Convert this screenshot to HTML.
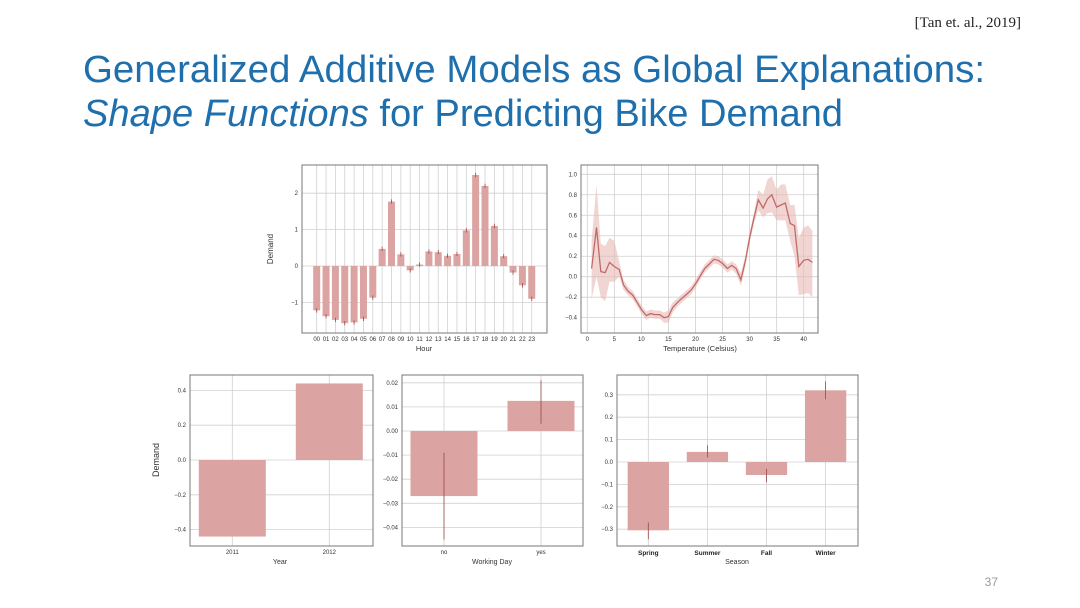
<!DOCTYPE html>
<html><head><meta charset="utf-8">
<style>
html,body{margin:0;padding:0;background:#fff;}
svg{display:block;font-family:"Liberation Sans",sans-serif;}
.tk{font-size:6px;fill:#333;}
.al{font-size:7.5px;fill:#333;}
</style></head>
<body>
<svg id="slide" width="1080" height="608" viewBox="0 0 1080 608" xmlns="http://www.w3.org/2000/svg">
  <text x="1021" y="27" text-anchor="end" font-family="'Liberation Sans Narrow','Liberation Serif',serif" font-size="15" fill="#222">[Tan et. al., 2019]</text>
  <text x="83" y="82" font-family="'Liberation Sans Narrow','Liberation Sans',sans-serif" font-size="38" fill="#1f6fad" textLength="902" lengthAdjust="spacingAndGlyphs">Generalized Additive Models as Global Explanations:</text>
  <text x="83" y="126" font-family="'Liberation Sans Narrow','Liberation Sans',sans-serif" font-size="38" fill="#1f6fad" textLength="760" lengthAdjust="spacingAndGlyphs"><tspan font-style="italic">Shape Functions</tspan> for Predicting Bike Demand</text>
  <text x="998" y="586" text-anchor="end" font-size="12" fill="#999">37</text>
  <g id="charts"></g>
</svg>
<script>
// ---- data ----
const hourLabels = ["00","01","02","03","04","05","06","07","08","09","10","11","12","13","14","15","16","17","18","19","20","21","22","23"];
const hourValues = [-1.22,-1.38,-1.48,-1.57,-1.55,-1.45,-0.87,0.47,1.77,0.32,-0.12,0.04,0.40,0.38,0.28,0.33,0.98,2.5,2.2,1.1,0.27,-0.18,-0.53,-0.9];
const hourTicks = [-1,0,1,2];

const tempX = [0.8,1.7,2.5,3.3,4.1,5,5.9,6.7,7.5,8.4,9.2,10,10.9,11.7,12.5,13.4,14.2,15,15.8,16.7,17.5,18.4,19.2,20,20.9,21.7,22.5,23.4,24.2,25,25.9,26.7,27.5,28.4,29.2,30,30.8,31.6,32.5,33.3,34.1,35,35.8,36.6,37.5,38.3,39.1,40,40.8,41.6];
const tempY = [0.08,0.48,0.05,0.04,0.14,0.1,0.07,-0.08,-0.14,-0.18,-0.25,-0.32,-0.38,-0.36,-0.37,-0.37,-0.40,-0.39,-0.3,-0.25,-0.21,-0.17,-0.13,-0.07,0.01,0.08,0.12,0.17,0.16,0.13,0.08,0.11,0.08,-0.03,0.15,0.38,0.57,0.75,0.67,0.76,0.8,0.68,0.7,0.72,0.52,0.5,0.1,0.16,0.17,0.14];
const tempLow = [-0.22,0.0,-0.2,-0.24,-0.05,-0.05,0.0,-0.13,-0.18,-0.22,-0.29,-0.36,-0.42,-0.4,-0.41,-0.41,-0.45,-0.45,-0.35,-0.29,-0.25,-0.21,-0.17,-0.11,-0.03,0.04,0.08,0.13,0.12,0.09,0.04,0.07,0.03,-0.09,0.1,0.33,0.52,0.65,0.58,0.62,0.63,0.55,0.55,0.55,0.35,0.2,-0.18,-0.17,-0.16,-0.2];
const tempHigh = [0.35,0.9,0.32,0.3,0.38,0.35,0.15,-0.03,-0.1,-0.14,-0.21,-0.28,-0.34,-0.32,-0.33,-0.33,-0.35,-0.33,-0.25,-0.21,-0.17,-0.13,-0.09,-0.03,0.05,0.12,0.16,0.21,0.2,0.17,0.12,0.15,0.12,0.04,0.2,0.43,0.62,0.85,0.8,0.95,0.98,0.85,0.9,0.9,0.7,0.7,0.38,0.48,0.5,0.45];
const tempXTicks = [0,5,10,15,20,25,30,35,40];
const tempYTicks = [-0.4,-0.2,0.0,0.2,0.4,0.6,0.8,1.0];

const yearCats = ["2011","2012"];
const yearVals = [-0.44,0.44];
const yearTicks = [-0.4,-0.2,0.0,0.2,0.4];

const workCats = ["no","yes"];
const workVals = [-0.027,0.0125];
const workErrLow = [-0.045,0.003];
const workErrHigh = [-0.009,0.021];
const workTicks = [-0.04,-0.03,-0.02,-0.01,0.00,0.01,0.02];

const seasonCats = ["Spring","Summer","Fall","Winter"];
const seasonVals = [-0.305,0.045,-0.058,0.32];
const seasonErrLow = [-0.345,0.02,-0.09,0.28];
const seasonErrHigh = [-0.27,0.075,-0.03,0.36];
const seasonTicks = [-0.3,-0.2,-0.1,0.0,0.1,0.2,0.3];

// ---- helpers ----
const NS = "http://www.w3.org/2000/svg";
const root = document.getElementById('charts');
function mk(tag, attrs, parent){
  const e = document.createElementNS(NS, tag);
  for (const k in attrs) e.setAttribute(k, attrs[k]);
  (parent||root).appendChild(e);
  return e;
}
function fmt(v, d){ const s = Math.abs(v).toFixed(d); return (v < -1e-9 ? "\u2212" : "") + s; }
const BAR = "#dba3a1";
const ERR = "#9a4848";
const GRID = "#d0d0d0";

function frame(name, x0, y0, x1, y1){
  const g = mk('g', {});
  
  
  return g;
}
function box(g, x0, y0, x1, y1){
  const r = mk('rect', {x:x0, y:y0, width:x1-x0, height:y1-y0, fill:'none', stroke:'#777', 'stroke-width':1}, g);
  
  
}
function hgrid(g, ticks, ys, x0, x1, dec, tickCls){
  ticks.forEach(t => {
    const y = ys(t);
    const l = mk('line', {x1:x0, x2:x1, y1:y, y2:y, stroke:GRID, 'stroke-width':0.8}, g);
    
    
    const tx = mk('text', {x:x0-4, y:y+2, 'text-anchor':'end', class:tickCls||'tk'}, g);
    
    
    tx.textContent = dec === 0 ? fmt(t,0) : fmt(t,dec);
  });
}
function vgrid(g, xs, y0, y1){
  xs.forEach(x => {
    const l = mk('line', {x1:x, x2:x, y1:y0, y2:y1, stroke:GRID, 'stroke-width':0.8}, g);
    
    
  });
}
function label(g, x, y, txt, name, size, rot, weight){
  const t = mk('text', {x:x, y:y, 'text-anchor':'middle', 'font-size':size, fill:'#333'}, g);
  if (rot) t.setAttribute('transform', `rotate(-90 ${x} ${y})`);
  if (weight) t.setAttribute('font-weight', weight);
  
  
  t.textContent = txt;
}
function bar(g, cx, w, v, ys, name){
  const y0 = ys(0), y1 = ys(v);
  const r = mk('rect', {x:cx-w/2, y:Math.min(y0,y1), width:w, height:Math.abs(y1-y0), fill:BAR}, g);
  
  
}
function err(g, cx, lo, hi, ys){
  const l = mk('line', {x1:cx, x2:cx, y1:ys(lo), y2:ys(hi), stroke:ERR, 'stroke-width':0.8}, g);
  
  
}

// ---- Hour chart ----
(function(){
  const X0=302,X1=547,Y0=165,Y1=333;
  const xs = i => 316.7 + i*9.35;
  const ys = v => 266 - v*36.4;
  const g = frame('hour-chart');
  vgrid(g, hourLabels.map((_,i)=>xs(i)), Y0, Y1);
  hgrid(g, hourTicks, ys, X0, X1, 0);
  hourValues.forEach((v,i)=>{
    bar(g, xs(i), 7, v, ys, 'bar-hour-'+hourLabels[i]);
    err(g, xs(i), v-0.06, v+0.06, ys);
  });
  hourLabels.forEach((h,i)=>{
    const t = mk('text', {x:xs(i), y:341, 'text-anchor':'middle', class:'tk', 'font-size':5.5}, g);
    
    
    t.textContent = h;
  });
  box(g, X0,Y0,X1,Y1);
  label(g, 424, 351, 'Hour', 'x-axis-title', 7.5);
  label(g, 273, 249, 'Demand', 'y-axis-title', 8, true);
})();

// ---- Temperature chart ----
(function(){
  const X0=581,X1=818,Y0=165,Y1=333;
  const xs = t => 587.3 + t*5.41;
  const ys = v => 276.7 - v*102.4;
  const g = frame('temperature-chart');
  vgrid(g, tempXTicks.map(xs), Y0, Y1);
  hgrid(g, tempYTicks, ys, X0, X1, 1);
  let d = tempX.map((t,i)=>(i?'L':'M')+xs(t).toFixed(1)+','+ys(tempHigh[i]).toFixed(1)).join('');
  for (let i=tempX.length-1;i>=0;i--) d += 'L'+xs(tempX[i]).toFixed(1)+','+ys(tempLow[i]).toFixed(1);
  const band = mk('path', {d:d+'Z', fill:'#e8b9b6', opacity:0.6}, g);
  
  
  const line = mk('path', {d:tempX.map((t,i)=>(i?'L':'M')+xs(t).toFixed(1)+','+ys(tempY[i]).toFixed(1)).join(''), fill:'none', stroke:'#c06a68', 'stroke-width':1.3}, g);
  
  
  tempXTicks.forEach(t=>{
    const tx = mk('text', {x:xs(t), y:341, 'text-anchor':'middle', class:'tk'}, g);
    
    
    tx.textContent = t;
  });
  box(g, X0,Y0,X1,Y1);
  label(g, 700, 351, 'Temperature (Celsius)', 'x-axis-title', 7.5);
})();

// ---- Year chart ----
(function(){
  const X0=190,X1=373,Y0=375,Y1=546;
  const xs = i => 232.3 + i*97;
  const ys = v => 460 - v*174;
  const g = frame('year-chart');
  vgrid(g, yearCats.map((_,i)=>xs(i)), Y0, Y1);
  hgrid(g, yearTicks, ys, X0, X1, 1, 'tk');
  yearVals.forEach((v,i)=>bar(g, xs(i), 67, v, ys, 'bar-year-'+yearCats[i]));
  yearCats.forEach((c,i)=>{
    const t = mk('text', {x:xs(i), y:554, 'text-anchor':'middle', class:'tk', 'font-size':5}, g);
    
    
    t.textContent = c;
  });
  box(g, X0,Y0,X1,Y1);
  label(g, 280, 564, 'Year', 'x-axis-title', 7);
  label(g, 159, 460, 'Demand', 'y-axis-title', 9, true);
})();

// ---- Working day chart ----
(function(){
  const X0=402,X1=583,Y0=375,Y1=546;
  const xs = i => 444 + i*97;
  const ys = v => 431 - v*2410;
  const g = frame('working-day-chart');
  vgrid(g, workCats.map((_,i)=>xs(i)), Y0, Y1);
  hgrid(g, workTicks, ys, X0, X1, 2, 'tk');
  workVals.forEach((v,i)=>{
    bar(g, xs(i), 67, v, ys, 'bar-working-day-'+workCats[i]);
    err(g, xs(i), workErrLow[i], workErrHigh[i], ys);
  });
  workCats.forEach((c,i)=>{
    const t = mk('text', {x:xs(i), y:554, 'text-anchor':'middle', class:'tk', 'font-size':5}, g);
    
    
    t.textContent = c;
  });
  box(g, X0,Y0,X1,Y1);
  label(g, 492, 564, 'Working Day', 'x-axis-title', 7);
})();

// ---- Season chart ----
(function(){
  const X0=617,X1=858,Y0=375,Y1=546;
  const xs = i => 648.3 + i*59.1;
  const ys = v => 462 - v*224;
  const g = frame('season-chart');
  vgrid(g, seasonCats.map((_,i)=>xs(i)), Y0, Y1);
  hgrid(g, seasonTicks, ys, X0, X1, 1, 'tk');
  seasonVals.forEach((v,i)=>{
    bar(g, xs(i), 41.3, v, ys, 'bar-season-'+seasonCats[i].toLowerCase());
    err(g, xs(i), seasonErrLow[i], seasonErrHigh[i], ys);
  });
  seasonCats.forEach((c,i)=>{
    const t = mk('text', {x:xs(i), y:555, 'text-anchor':'middle', 'font-size':6.5, 'font-weight':'bold', fill:'#222'}, g);
    
    
    t.textContent = c;
  });
  box(g, X0,Y0,X1,Y1);
  label(g, 737, 564, 'Season', 'x-axis-title', 7);
})();
</script>
</body></html>
